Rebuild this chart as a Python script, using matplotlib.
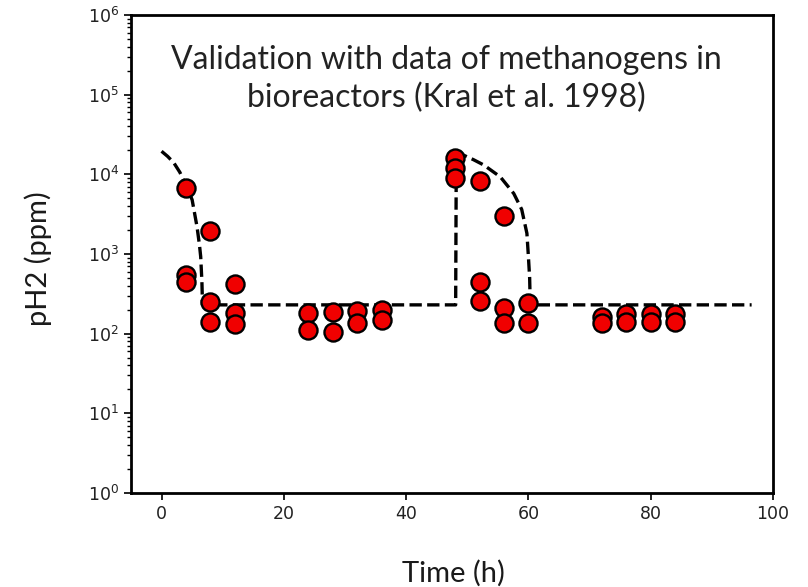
import matplotlib
matplotlib.use("Agg")
import matplotlib.pyplot as plt
import numpy as np

# Measured hydrogen partial pressure (ppm) at each sampling time (h)
obs_time = [4, 4, 4,
            8, 8, 8,
            12, 12, 12,
            24, 24, 28, 28, 32, 32, 36, 36,
            48, 48, 48,
            52, 52, 52,
            56, 56, 56,
            60, 60,
            72, 72, 76, 76, 80, 80, 84, 84]
obs_ph2 = [6700, 550, 450,
           1950, 250, 140,
           420, 180, 132,
           181, 111, 187, 105, 192, 136, 198, 148,
           15900, 12000, 8900,
           8200, 445, 256,
           3000, 209, 136,
           242, 136,
           162, 136, 177, 140, 177, 140, 177, 140]

# Model curve (h, ppm)
model_time = [0.0, 1.0, 2.0, 3.0, 4.0, 4.2, 5.0, 5.8, 6.2, 6.4, 6.6, 6.7,
              20.0, 40.0, 48.1, 48.2, 49.4, 51.0, 52.7, 55.4, 57.6, 58.9,
              59.75, 60.0, 60.2, 60.3, 80.0, 96.5]
model_ph2 = [19500, 16800, 14000, 10600, 7200, 6700, 4800, 2200, 1300, 930,
             450, 230,
             230, 230, 230, 17400, 17400, 15300, 13100, 9300, 5750, 3630,
             1820, 920, 500, 230, 230, 230]

x_ticks = [0, 20, 40, 60, 80, 100]

fig = plt.figure(figsize=(8.08, 5.87), dpi=100)
ax = fig.add_axes([0.1621, 0.1601, 0.9567 - 0.1621, 0.9744 - 0.1601])

ax.plot(model_time, model_ph2, color="black", linestyle="--",
        linewidth=2.4, zorder=3)
ax.plot(obs_time, obs_ph2, linestyle="none", marker="o", markersize=13,
        markerfacecolor="#f00000", markeredgecolor="black",
        markeredgewidth=1.7, zorder=4)

ax.set_yscale("log")
ax.set_ylim(1, 1e6)
ax.set_xlim(-5, 100)
ax.set_xticks(x_ticks)
ax.set_yticks([10.0 ** k for k in range(7)])
ax.yaxis.set_minor_locator(matplotlib.ticker.LogLocator(base=10, subs=np.arange(2, 10)))
ax.yaxis.set_minor_formatter(matplotlib.ticker.NullFormatter())

for s in ax.spines.values():
    s.set_linewidth(2.0)
ax.tick_params(axis="both", which="major", labelsize=12.5, width=1.4, length=5,
               colors="#222222", labelcolor="#222222")
ax.tick_params(axis="y", which="minor", width=1.0, length=3)

fig.text(0.047, 0.56, "pH2 (ppm)", rotation=90, ha="center", va="center",
         fontsize=21, family="Lato", color="#1a1a1a")
fig.text(0.561, 0.023, "Time (h)", ha="center", va="center",
         fontsize=21, family="Lato", color="#1a1a1a")

ax.text(0.492, 0.866, "Validation with data of methanogens in\nbioreactors (Kral et al. 1998)",
        transform=ax.transAxes, ha="center", va="center", fontsize=23,
        family="Lato", fontweight="normal", color="#222222", linespacing=1.3)

fig.savefig("out.png", dpi=100)
